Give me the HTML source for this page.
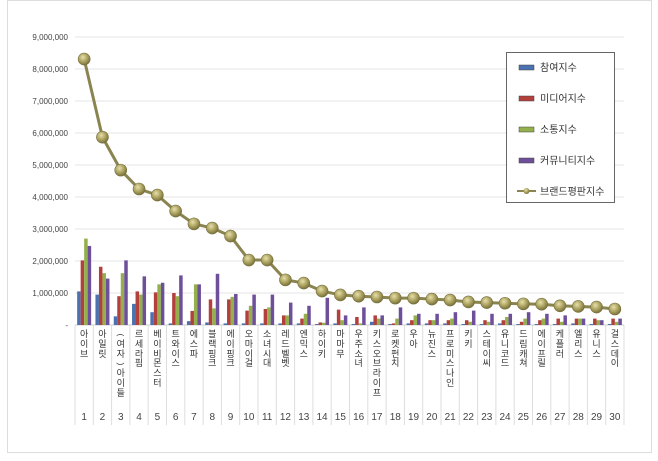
<!DOCTYPE html>
<html><head><meta charset="utf-8"><style>
body{margin:0;background:#fff;}
#c{position:relative;width:658px;height:461px;overflow:hidden;font-family:"Liberation Sans","Noto Sans CJK KR",sans-serif;}
.lab{position:absolute;top:330px;width:18px;text-align:center;font-size:9px;line-height:9.8px;color:#333;}
.num{position:absolute;top:412px;width:18px;text-align:center;font-size:10px;color:#444;}
</style></head><body><div id="c">
<svg id="s" width="658" height="461" style="position:absolute;left:0;top:0"></svg>
</div>
<script>
var names=["아이브","아일릿","(여자)아이들","르세라핌","베이비몬스터","트와이스","에스파","블랙핑크","에이핑크","오마이걸","소녀시대","레드벨벳","엔믹스","하이키","마마무","우주소녀","키스오브라이프","로켓펀치","우아","뉴진스","프로미스나인","키키","스테이씨","유니코드","드림캐쳐","에이프릴","케플러","엘리스","유니스","걸스데이"];
var line=[8.31,5.87,4.84,4.25,4.06,3.56,3.16,3.03,2.78,2.03,2.03,1.41,1.31,1.06,0.94,0.9,0.875,0.84,0.84,0.81,0.78,0.72,0.7,0.68,0.66,0.65,0.6,0.58,0.56,0.5];
var bars=[[1.05,2.02,2.7,2.47],[0.95,1.82,1.62,1.45],[0.27,0.9,1.62,2.02],[0.66,1.05,0.95,1.52],[0.4,1.02,1.27,1.32],[0.05,1.0,0.9,1.55],[0.12,0.44,1.27,1.27],[0.08,0.8,0.52,1.6],[0.05,0.8,0.88,0.97],[0.05,0.45,0.6,0.95],[0.05,0.5,0.55,0.95],[0.05,0.3,0.3,0.7],[0.05,0.2,0.35,0.6],[0.03,0.08,0.07,0.85],[0.05,0.48,0.15,0.3],[0.03,0.25,0.05,0.55],[0.1,0.3,0.2,0.3],[0.03,0.05,0.2,0.55],[0.05,0.15,0.3,0.35],[0.05,0.15,0.15,0.35],[0.05,0.15,0.2,0.4],[0.03,0.15,0.1,0.45],[0.03,0.15,0.1,0.35],[0.05,0.15,0.25,0.35],[0.03,0.1,0.2,0.4],[0.03,0.15,0.2,0.35],[0.03,0.2,0.1,0.3],[0.05,0.2,0.2,0.2],[0.03,0.2,0.15,0.15],[0.03,0.2,0.1,0.2]];
var col=["#4a72b0","#b3403d","#93b04c","#6e4f9a"];
var y0=325,k=32,x0=75,st=18.3;
var h='<rect x="7.5" y="0.5" width="644" height="452" fill="none" stroke="#ddd"/>';
for(var i=0;i<=9;i++){var y=y0-i*k;if(i>0)h+='<line x1="75" x2="624" y1="'+y+'" y2="'+y+'" stroke="#e6e6e6"/>';
h+='<text x="68" y="'+(y+3)+'" font-size="8" text-anchor="end" fill="#444">'+(i==0?'-':i+',000,000')+'</text>';}
h+='<line x1="75" x2="624" y1="325" y2="325" stroke="#ccc"/>';
for(var i=0;i<=30;i++){var x=x0+i*st;h+='<line x1="'+x+'" x2="'+x+'" y1="325" y2="425" stroke="#ddd"/>';}
var d='';
for(var i=0;i<30;i++){var cx=x0+st*i+st/2;
for(var j=0;j<4;j++){var bh=bars[i][j]*k;h+='<rect x="'+(cx-7+j*3.5)+'" y="'+(y0-bh)+'" width="3.5" height="'+bh+'" fill="'+col[j]+'"/>';}
d+=(i?'L':'M')+cx+' '+(y0-line[i]*k);}
h+='<defs><radialGradient id="g" cx="0.4" cy="0.35" r="0.7"><stop offset="0" stop-color="#e6dfa8"/><stop offset="0.6" stop-color="#a39a58"/><stop offset="1" stop-color="#6e6838"/></radialGradient></defs>';
h+='<path d="'+d+'" fill="none" stroke="#8a8450" stroke-width="3"/>';
for(var i=0;i<30;i++){var cx=x0+st*i+st/2;h+='<circle cx="'+cx+'" cy="'+(y0-line[i]*k)+'" r="6" fill="url(#g)" stroke="#77703e" stroke-width="0.6"/>';}
h+='<rect x="506.5" y="52.5" width="108" height="150" fill="#fff" stroke="#666"/>';
var ln=["참여지수","미디어지수","소통지수","커뮤니티지수","브랜드평판지수"];
for(var j=0;j<5;j++){var y=67+j*31;
if(j<4)h+='<rect x="519" y="'+(y-2)+'" width="15" height="5" fill="'+col[j]+'" stroke="#444" stroke-width="0.5"/>';
else h+='<line x1="517" x2="536" y1="'+y+'" y2="'+y+'" stroke="#8a8450" stroke-width="2"/><circle cx="526.5" cy="'+y+'" r="3" fill="url(#g)"/>';
h+='<text x="540" y="'+(y+4)+'" font-size="10" fill="#333">'+ln[j]+'</text>';}
document.getElementById('s').innerHTML=h;
var c=document.getElementById('c'),o='';
for(var i=0;i<30;i++){var x=x0+st*i+0.15;
var chars=names[i].split('').map(function(ch){return (ch=='('||ch==')')?'<span style="display:inline-block;transform:rotate(90deg);font-size:8px">'+ch+'</span>':ch;});
o+='<div class="lab" style="left:'+x+'px">'+chars.join('<br>')+'</div><div class="num" style="left:'+x+'px">'+(i+1)+'</div>';}
c.insertAdjacentHTML('beforeend',o);
</script></body></html>
